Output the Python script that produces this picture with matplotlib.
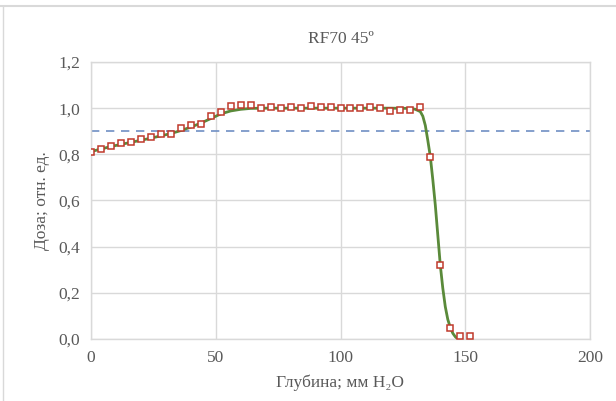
import numpy as np
import matplotlib
matplotlib.use('Agg')
import matplotlib.pyplot as plt
from matplotlib.lines import Line2D

# measured points (depth, mm H2O / relative dose)
depth = [0, 4, 8, 12, 16, 20, 24, 28, 32, 36, 40, 44, 48, 52, 56, 60, 64, 68,
         72, 76, 80, 84, 88, 92, 96, 100, 104, 108, 112, 116, 120, 124, 128,
         132, 136, 140, 144, 148, 152]
dose = [0.811, 0.825, 0.835, 0.847, 0.853, 0.867, 0.873, 0.887, 0.889, 0.915,
        0.925, 0.932, 0.968, 0.984, 1.010, 1.013, 1.013, 1.000, 1.004, 1.001,
        1.006, 0.999, 1.010, 1.006, 1.006, 0.999, 0.999, 0.999, 1.006, 0.999,
        0.988, 0.994, 0.994, 1.006, 0.789, 0.320, 0.046, 0.012, 0.012]

# fitted curve
fit_depth = [0, 8, 16, 24, 32, 36, 40, 44, 48, 52, 56, 60, 64, 70, 80, 100,
             120, 128, 130, 132, 133, 134, 135, 136, 137, 138, 139, 140, 141,
             142, 143, 144, 145, 146, 147]
fit_dose = [0.812, 0.834, 0.852, 0.870, 0.890, 0.903, 0.918, 0.935, 0.955,
            0.975, 0.988, 0.995, 0.999, 1.0, 1.0, 1.0, 1.0, 0.999, 0.995,
            0.985, 0.965, 0.925, 0.86, 0.79, 0.69, 0.58, 0.45, 0.32, 0.22,
            0.14, 0.085, 0.05, 0.025, 0.01, 0.0]

level = 0.9
xticks = [0, 50, 100, 150, 200]
yticks = [0.0, 0.2, 0.4, 0.6, 0.8, 1.0, 1.2]

text_color = '#595959'
grid_color = '#d9d9d9'
serif = ['Liberation Serif', 'DejaVu Serif']

plt.rcParams['font.family'] = serif

fig = plt.figure(figsize=(6.16, 4.01), dpi=100)
fig.set_facecolor('white')
ax = fig.add_axes([91 / 616, 62 / 401, 499 / 616, 277 / 401])

ax.set_xlim(0, 200)
ax.set_ylim(0, 1.2)
ax.set_xticks(xticks)
ax.set_yticks(yticks)
ax.set_yticklabels([('%.1f' % v).replace('.', ',') for v in yticks])

ax.grid(True, color=grid_color, linewidth=1.0, zorder=0)
for s in ax.spines.values():
    s.set_color(grid_color)
    s.set_linewidth(1.0)
ax.tick_params(length=0, colors=text_color, labelsize=12.5, pad=8)

ax.plot([0, 200], [level, level], color='#6f8fc4', linestyle=(0, (5, 4)),
        linewidth=1.2, zorder=2)
ax.plot(fit_depth, fit_dose, color='#5a8a3a', linewidth=2.0, zorder=3)
ax.plot(depth, dose, linestyle='none', marker='s', markersize=4.5,
        markerfacecolor='white', markeredgecolor='#c0392b',
        markeredgewidth=1.1, zorder=4)

ax.set_title('RF70 45º', color=text_color, fontsize=12.5, pad=14)
ax.set_xlabel('Глубина; мм H₂O', color=text_color, fontsize=12.5, labelpad=6)
ax.set_ylabel('Доза; отн. ед.', color=text_color, fontsize=12.5, labelpad=6)

# chart frame edges visible in the screenshot
fig.add_artist(Line2D([0, 1], [1 - 6 / 401, 1 - 6 / 401], color=grid_color,
                      linewidth=1.5, transform=fig.transFigure))
fig.add_artist(Line2D([3 / 616, 3 / 616], [0, 1 - 6 / 401], color=grid_color,
                      linewidth=1.0, transform=fig.transFigure))

fig.savefig('out.png', dpi=100)
